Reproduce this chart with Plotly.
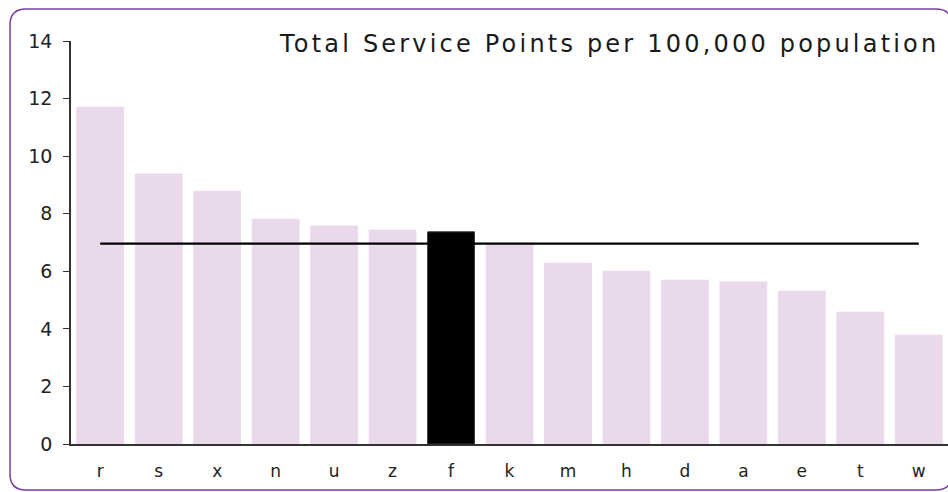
import plotly.graph_objects as go

categories = ["r", "s", "x", "n", "u", "z", "f", "k", "m", "h", "d", "a", "e", "t", "w"]
values = [11.70, 9.38, 8.78, 7.81, 7.57, 7.43, 7.37, 6.96, 6.28, 6.00, 5.69, 5.63, 5.31, 4.58, 3.78]
highlight = "f"
average = 6.96
y_ticks = [0, 2, 4, 6, 8, 10, 12, 14]
title_text = "Total Service Points per 100,000 population"

W, H = 948, 492
L, R, T, B = 71, 0, 41, 48
PW, PH = W - L - R, H - T - B

def px(x):
    return (x - L) / PW

def py(y):
    return (H - B - y) / PH

bar_colors = ["#000000" if c == highlight else "#EAD9EB" for c in categories]
line_colors = ["#333333" if c == highlight else "#EAD9EB" for c in categories]

fig = go.Figure()
fig.add_trace(go.Bar(
    x=categories, y=values,
    marker=dict(color=bar_colors, line=dict(color=line_colors, width=1)),
    width=0.8, showlegend=False,
))
fig.add_trace(go.Scatter(
    x=categories, y=[average] * len(categories),
    mode="lines", line=dict(color="#000000", width=2.2), showlegend=False,
))

# rounded border (pixel coords -> paper)
x0, y0, x1, y1, r = 10, 9, 952, 490, 16
pts = [
    ("M", [(x0 + r, y0)]),
    ("L", [(x1 - r, y0)]),
    ("Q", [(x1, y0), (x1, y0 + r)]),
    ("L", [(x1, y1 - r)]),
    ("Q", [(x1, y1), (x1 - r, y1)]),
    ("L", [(x0 + r, y1)]),
    ("Q", [(x0, y1), (x0, y1 - r)]),
    ("L", [(x0, y0 + r)]),
    ("Q", [(x0, y0), (x0 + r, y0)]),
]
path = ""
for cmd, ps in pts:
    path += cmd + " " + " ".join(f"{px(a):.5f},{py(b):.5f}" for a, b in ps) + " "
path += "Z"

fig.add_shape(type="path", path=path, xref="paper", yref="paper",
              line=dict(color="#7A3FA0", width=1.5), layer="below")

fig.add_annotation(
    text=title_text, xref="paper", yref="paper",
    x=px(277), y=py(44), xanchor="left", yanchor="middle", align="left",
    showarrow=False, font=dict(family="DejaVu Sans", size=24, color="#1a1a1a"),
)

fig.update_layout(
    width=W, height=H,
    margin=dict(l=L, r=R, t=T, b=B),
    paper_bgcolor="white", plot_bgcolor="white",
    bargap=0.2,
    font=dict(family="DejaVu Sans", color="#222222"),
    xaxis=dict(
        type="category", range=[-0.5, 14.5],
        showline=True, linecolor="#333333", linewidth=1.5,
        ticks="outside", ticklen=11, tickcolor="rgba(0,0,0,0)",
        tickfont=dict(size=17), showgrid=False, zeroline=False,
    ),
    yaxis=dict(
        range=[0, 14], tickvals=y_ticks,
        showline=True, linecolor="#333333", linewidth=1.5,
        ticks="outside", ticklen=6, tickcolor="#333333",
        tickfont=dict(size=19), showgrid=False, zeroline=False,
        ticklabelstandoff=7,
    ),
)

post = (
    "document.body.style.margin='0';"
    "var s=document.createElement('style');"
    "s.textContent='.annotation-text{letter-spacing:3.2px;}';"
    "document.head.appendChild(s);"
)
fig.write_html("out.html", post_script=post, config={"displayModeBar": False})
